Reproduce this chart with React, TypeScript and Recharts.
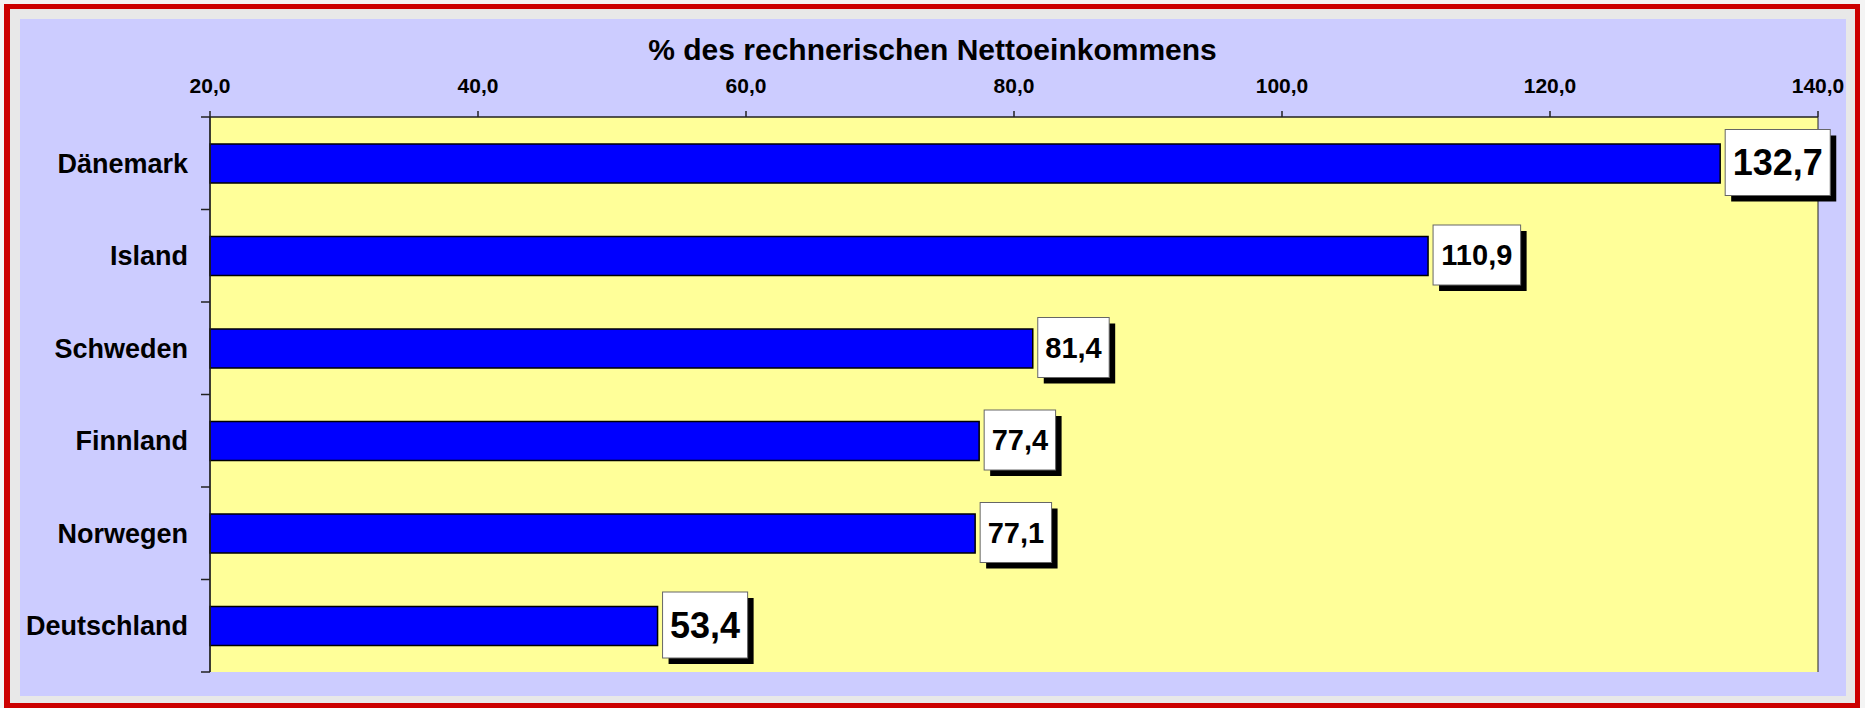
import React from "react";
import {
  BarChart,
  Bar,
  XAxis,
  YAxis,
  CartesianGrid,
  LabelList,
} from "recharts";

const countries: string[] = [
  "Dänemark",
  "Island",
  "Schweden",
  "Finnland",
  "Norwegen",
  "Deutschland",
];
const values: number[] = [132.7, 110.9, 81.4, 77.4, 77.1, 53.4];
const highlighted: string[] = ["Dänemark", "Deutschland"];
const xTicks: number[] = [20, 40, 60, 80, 100, 120, 140];

const data = countries.map((name, i) => ({ name, value: values[i] }));

const W = 1865;
const H = 708;
const PLOT_TOP = 117;
const PLOT_BOTTOM = 672;
const PLOT_LEFT = 210;
const PLOT_RIGHT = 1818;
const STEP = (PLOT_BOTTOM - PLOT_TOP) / countries.length;
const FONT = "'Liberation Sans', Arial, Helvetica, sans-serif";

const fmt = (v: number) => v.toFixed(1).replace(".", ",");

// rough Arial Bold widths, good enough for sizing the boxes
const textWidth = (s: string, fs: number) =>
  s.split("").reduce((w, ch) => w + (ch === "," ? 0.278 : 0.556), 0) * fs;

const CategoryTick = (props: any) => {
  const { x, y, payload, index } = props;
  return (
    <g>
      {index === 0 && (
        <line x1={x - 9} x2={x} y1={y - STEP / 2} y2={y - STEP / 2} stroke="#222" strokeWidth={1.5} />
      )}
      <line x1={x - 9} x2={x} y1={y + STEP / 2} y2={y + STEP / 2} stroke="#222" strokeWidth={1.5} />
      <text
        x={x - 22}
        y={y}
        dy="0.36em"
        textAnchor="end"
        fontFamily={FONT}
        fontWeight="bold"
        fontSize={27}
        fill="#000"
      >
        {payload.value}
      </text>
    </g>
  );
};

const ValueBox = (props: any) => {
  const { x, y, width, height, value, index } = props;
  const big = highlighted.includes(countries[index]);
  const fs = big ? 36 : 29;
  const label = fmt(Number(value));
  const bw = textWidth(label, fs) + 15;
  const bh = big ? 66 : 60;
  const bx = Number(x) + Number(width) + 5;
  const cy = Number(y) + Number(height) / 2 - 1;
  const by = cy - bh / 2;
  return (
    <g>
      <rect x={bx + 6} y={by + 6} width={bw} height={bh} fill="#000" />
      <rect x={bx} y={by} width={bw} height={bh} fill="#fff" stroke="#666" strokeWidth={1} />
      <text
        x={bx + bw / 2}
        y={cy}
        dy={0.36 * fs}
        textAnchor="middle"
        fontFamily={FONT}
        fontWeight="bold"
        fontSize={fs}
        fill="#000"
      >
        {label}
      </text>
    </g>
  );
};

export default function App() {
  return (
    <div style={{ position: "absolute", left: 0, top: 0, width: W, height: H, background: "#f4f4f4" }}>
      <div style={{ position: "absolute", left: 4, top: 4, right: 5, bottom: 0, background: "#CC0000" }} />
      <div style={{ position: "absolute", left: 10, top: 9, width: 1855 - 10, height: 703 - 9, background: "#E8E8E8" }} />
      <div style={{ position: "absolute", left: 20, top: 19, width: 1846 - 20, height: 696 - 19, background: "#CCCCFF" }} />
      <div
        style={{
          position: "absolute",
          left: 0,
          top: 35,
          width: W,
          textAlign: "center",
          fontFamily: FONT,
          fontWeight: "bold",
          fontSize: 30,
          lineHeight: "30px",
          color: "#000",
        }}
      >
        % des rechnerischen Nettoeinkommens
      </div>
      <div style={{ position: "absolute", left: 0, top: 0 }}>
        <BarChart
          width={W}
          height={H}
          data={data}
          layout="vertical"
          margin={{ top: 0, left: 0, right: W - PLOT_RIGHT, bottom: H - PLOT_BOTTOM }}
        >
          <CartesianGrid
            horizontal={false}
            vertical={true}
            stroke="#222"
            strokeWidth={1}
            fill="#FFFF99"
            fillOpacity={1}
          />
          <XAxis
            xAxisId="top"
            type="number"
            orientation="top"
            domain={[20, 140]}
            ticks={xTicks}
            tickFormatter={fmt}
            height={PLOT_TOP}
            tickSize={6}
            tickMargin={18}
            axisLine={{ stroke: "#222", strokeWidth: 1.5 }}
            tickLine={{ stroke: "#222", strokeWidth: 1.5 }}
            tick={{ fill: "#000", fontSize: 21, fontWeight: "bold", fontFamily: FONT }}
          />
          <XAxis
            xAxisId="bottom"
            type="number"
            orientation="bottom"
            domain={[20, 140]}
            ticks={xTicks}
            height={0}
            tick={false}
            tickLine={false}
            axisLine={{ stroke: "#888", strokeWidth: 2 }}
          />
          <YAxis
            type="category"
            dataKey="name"
            width={PLOT_LEFT}
            tickSize={0}
            tickMargin={0}
            tickLine={false}
            axisLine={{ stroke: "#222", strokeWidth: 1.5 }}
            tick={<CategoryTick />}
            interval={0}
          />
          <Bar
            xAxisId="top"
            dataKey="value"
            barSize={39}
            fill="#0000FF"
            stroke="#000"
            strokeWidth={1.5}
            isAnimationActive={false}
          >
            <LabelList dataKey="value" content={<ValueBox />} />
          </Bar>
        </BarChart>
      </div>
    </div>
  );
}
